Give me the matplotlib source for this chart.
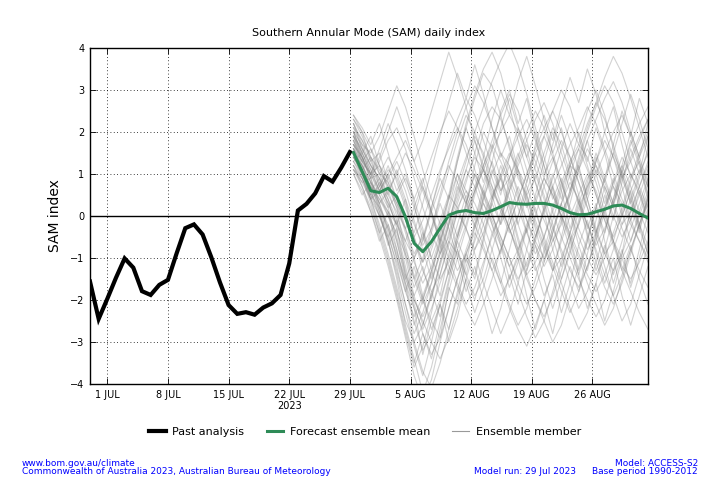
import numpy as np
import pandas as pd
import matplotlib
matplotlib.use("Agg")
import matplotlib.pyplot as plt
from matplotlib.lines import Line2D

# ---------------- data ----------------
past_start = "2023-06-29"
past_values = [-1.56, -2.45, -1.97, -1.47, -1.01, -1.23, -1.79, -1.88, -1.64, -1.52,
               -0.89, -0.29, -0.20, -0.44, -0.98, -1.58, -2.12, -2.33, -2.29, -2.35,
               -2.18, -2.08, -1.88, -1.13, 0.13, 0.29, 0.54, 0.95, 0.82, 1.15, 1.52]

forecast_start = "2023-07-29 10:00"
mean_values = [1.51, 1.06, 0.60, 0.56, 0.66, 0.46, -0.02, -0.65, -0.85, -0.61,
               -0.29, 0.02, 0.10, 0.13, 0.08, 0.06, 0.13, 0.22, 0.32, 0.29,
               0.28, 0.30, 0.30, 0.26, 0.18, 0.08, 0.03, 0.04, 0.10, 0.16,
               0.24, 0.26, 0.18, 0.06, -0.05]

members = [
    [2.1, 1.6, 1.2, 0.9, 0.4, -0.3, -1.2, -2.0, -2.4, -1.9, -1.2, -0.4, 0.3, 0.9, 1.4, 1.1, 0.6, 0.2, -0.3, -0.9, -1.4, -1.1, -0.5, 0.2, 0.8, 1.3, 1.7, 1.4, 0.8, 0.1, -0.6, -1.2, -1.5, -1.1, -0.6],
    [1.4, 1.0, 0.5, 0.7, 1.1, 0.9, 0.3, -0.5, -1.3, -1.8, -1.4, -0.7, 0.1, 0.8, 1.5, 2.2, 2.6, 2.3, 1.7, 1.0, 0.4, -0.2, -0.8, -1.3, -1.0, -0.4, 0.3, 0.9, 1.2, 0.8, 0.3, -0.2, 0.1, 0.7, 1.3],
    [1.8, 1.3, 0.6, 0.1, -0.6, -1.5, -2.6, -3.4, -4.2, -3.6, -2.7, -1.8, -1.0, -0.3, 0.5, 1.2, 1.8, 2.4, 2.9, 2.5, 1.8, 1.1, 0.5, -0.2, -0.9, -1.6, -2.2, -1.8, -1.1, -0.4, 0.4, 1.1, 1.7, 2.2, 2.6],
    [1.2, 0.8, 0.9, 1.3, 1.8, 2.1, 1.6, 0.9, 0.2, -0.4, -0.9, -0.5, 0.2, 0.6, 0.3, -0.2, -0.8, -1.5, -2.1, -2.6, -2.2, -1.5, -0.8, -0.1, 0.6, 1.2, 1.0, 0.4, -0.3, -0.9, -0.6, 0.1, 0.8, 1.4, 1.9],
    [2.3, 1.9, 1.4, 1.0, 0.8, 0.3, -0.4, -1.1, -1.6, -1.2, -0.5, 0.4, 1.3, 2.1, 2.8, 3.4, 3.1, 2.4, 1.6, 0.9, 0.5, 0.9, 1.5, 2.1, 1.7, 1.0, 0.3, -0.4, -1.1, -1.7, -2.1, -1.6, -0.9, -0.2, 0.5],
    [1.6, 1.1, 0.4, -0.2, -0.9, -1.7, -2.5, -3.0, -2.6, -1.9, -1.1, -0.6, -0.9, -1.4, -1.9, -1.5, -0.8, -0.1, 0.6, 1.1, 0.7, 0.1, -0.5, -1.1, -1.6, -2.2, -2.7, -2.3, -1.6, -0.8, 0.0, 0.6, 1.0, 0.6, 0.1],
    [1.9, 1.5, 1.1, 0.6, 0.2, 0.5, 0.9, 0.4, -0.3, -1.0, -0.4, 0.5, 1.4, 2.2, 2.9, 3.5, 3.9, 3.4, 2.6, 1.8, 1.1, 0.4, -0.1, -0.6, -0.2, 0.5, 1.3, 2.0, 2.6, 3.1, 2.7, 2.0, 1.3, 0.7, 0.2],
    [1.1, 0.7, 0.2, -0.4, -1.1, -1.9, -2.8, -3.6, -3.1, -2.3, -1.4, -0.6, 0.1, -0.3, -0.9, -1.6, -2.2, -2.8, -2.3, -1.6, -0.8, 0.0, 0.7, 1.3, 1.8, 1.4, 0.8, 0.2, -0.5, -1.2, -1.9, -2.5, -2.1, -1.4, -0.7],
    [2.0, 1.7, 1.5, 1.9, 2.5, 3.1, 2.6, 1.9, 1.1, 0.4, -0.2, -0.8, -1.3, -0.9, -0.3, 0.4, 1.0, 1.5, 1.2, 0.6, -0.1, -0.7, -1.2, -0.8, -0.1, 0.6, 1.4, 2.1, 2.7, 3.3, 3.8, 3.4, 2.8, 2.1, 1.4],
    [1.5, 1.2, 0.8, 0.5, 0.1, -0.5, -1.3, -2.1, -2.8, -3.3, -2.9, -2.2, -1.5, -0.8, -0.2, 0.3, -0.1, -0.6, -1.2, -1.8, -2.4, -2.9, -2.5, -1.8, -1.1, -0.4, 0.2, 0.7, 1.1, 0.7, 0.2, -0.3, -0.8, -1.3, -1.7],
    [1.7, 1.4, 0.9, 1.0, 1.4, 1.0, 0.4, -0.2, -0.7, -0.3, 0.4, 1.1, 1.8, 2.4, 2.0, 1.4, 0.7, 0.1, -0.4, 0.0, 0.6, 1.2, 1.9, 2.5, 3.0, 2.6, 1.9, 1.2, 0.5, -0.1, -0.6, -1.0, -0.6, 0.0, 0.6],
    [1.3, 0.9, 0.4, 0.0, -0.5, -1.1, -1.8, -2.4, -1.9, -1.3, -0.6, 0.1, 0.8, 1.4, 1.9, 1.5, 0.9, 0.3, -0.3, -0.8, -1.4, -2.0, -2.5, -3.0, -2.6, -1.9, -1.2, -0.5, 0.2, 0.9, 1.5, 1.0, 0.4, -0.2, -0.7],
    [2.4, 2.0, 1.6, 1.2, 0.7, 0.2, -0.3, -0.9, -0.5, 0.2, 1.0, 1.7, 2.3, 2.8, 2.4, 1.8, 1.2, 0.6, 0.9, 1.4, 2.0, 2.5, 2.1, 1.5, 0.8, 0.1, -0.5, -1.0, -1.4, -1.0, -0.4, 0.2, 0.9, 1.5, 2.0],
    [1.0, 0.6, 0.1, -0.5, -1.2, -2.0, -2.9, -3.8, -4.4, -3.9, -3.0, -2.2, -1.5, -0.9, -0.4, -0.8, -1.3, -1.9, -1.5, -0.9, -0.3, 0.3, 0.9, 0.5, 0.0, -0.5, -1.0, -1.6, -2.1, -2.6, -2.2, -1.5, -0.8, -0.2, 0.4],
    [1.6, 1.3, 1.0, 1.2, 0.9, 0.4, -0.1, -0.6, -1.1, -0.7, -0.1, 0.5, 0.2, -0.3, -0.8, -0.4, 0.3, 0.9, 1.4, 1.9, 2.3, 1.8, 1.2, 0.6, 0.0, -0.6, -0.2, 0.4, 1.0, 1.5, 2.0, 2.4, 1.9, 1.3, 0.7],
    [1.9, 1.4, 0.9, 0.3, -0.3, -1.0, -1.6, -2.2, -2.7, -2.2, -1.6, -1.0, -0.4, 0.2, 0.7, 1.2, 1.7, 1.3, 0.8, 0.2, -0.4, -0.9, -0.5, 0.1, 0.7, 1.2, 1.6, 1.1, 0.5, -0.1, -0.7, -1.3, -1.8, -2.3, -2.7],
    [1.4, 1.1, 0.7, 0.3, 0.6, 1.0, 1.5, 1.1, 0.6, 0.0, -0.6, -1.2, -1.7, -2.2, -2.6, -2.1, -1.5, -0.8, -0.2, 0.4, 1.0, 1.5, 1.9, 1.4, 0.8, 0.2, -0.3, -0.8, -0.4, 0.2, 0.7, 0.3, -0.2, -0.6, -1.1],
    [2.2, 1.8, 1.3, 0.8, 0.4, -0.1, -0.7, -1.5, -2.1, -1.6, -0.9, -0.2, 0.6, 1.3, 2.0, 2.6, 3.2, 3.7, 4.1, 3.6, 2.9, 2.1, 1.4, 0.7, 0.1, 0.5, 1.1, 1.6, 1.2, 0.6, 0.0, -0.5, -0.1, 0.5, 1.1],
    [1.2, 0.9, 0.5, 0.2, -0.2, -0.8, -1.6, -2.5, -3.2, -2.8, -2.1, -1.3, -0.5, 0.3, 1.0, 0.6, 0.0, -0.5, -1.0, -1.5, -1.1, -0.5, 0.1, 0.7, 1.2, 1.7, 2.1, 2.6, 2.2, 1.6, 1.0, 0.4, -0.1, -0.6, -1.0],
    [1.7, 1.3, 1.0, 0.6, 0.9, 1.3, 0.8, 0.2, -0.4, -1.0, -1.5, -1.1, -0.5, 0.1, 0.6, 1.1, 0.7, 0.2, -0.3, -0.9, -1.5, -2.0, -2.4, -1.9, -1.3, -0.6, 0.1, 0.7, 1.3, 1.8, 1.4, 0.9, 1.3, 1.8, 2.3],
    [2.0, 1.5, 1.0, 0.5, 0.0, -0.6, -1.4, -1.9, -1.4, -0.8, -0.2, 0.4, 1.0, 0.6, 0.1, -0.5, -1.1, -1.6, -2.2, -2.7, -3.1, -2.6, -2.0, -1.3, -0.6, 0.0, 0.5, 1.0, 0.6, 0.0, -0.5, 0.0, 0.6, 1.1, 0.7],
    [1.5, 1.2, 0.8, 0.4, 0.0, -0.4, -0.9, -1.5, -1.0, -0.3, 0.5, 1.3, 2.0, 2.6, 3.1, 2.7, 2.1, 1.5, 0.9, 0.4, -0.1, -0.6, -1.0, -0.6, 0.0, 0.6, 1.2, 1.8, 2.3, 2.8, 3.2, 2.7, 2.0, 1.4, 0.8],
    [1.8, 1.4, 0.8, 0.3, -0.4, -1.2, -2.1, -3.0, -3.7, -4.1, -3.5, -2.7, -1.9, -1.2, -0.6, 0.0, 0.5, 0.9, 0.4, -0.2, -0.8, -1.3, -0.9, -0.3, 0.3, 0.8, 0.4, -0.2, -0.8, -1.4, -1.9, -1.4, -0.8, -0.2, 0.3],
    [1.3, 1.0, 0.7, 0.4, 0.1, -0.2, -0.6, -1.0, -0.6, 0.1, 0.7, 1.2, 0.8, 0.3, -0.2, -0.7, -1.3, -0.8, -0.2, 0.4, 1.0, 1.6, 2.1, 2.5, 2.0, 1.4, 0.8, 0.2, -0.4, -0.9, -1.3, -0.9, -0.3, 0.3, 0.9],
    [2.2, 1.7, 1.2, 0.7, 0.3, -0.2, -0.8, -1.4, -2.0, -2.5, -2.0, -1.3, -0.6, 0.0, 0.6, 1.1, 1.6, 2.0, 2.4, 2.0, 1.4, 0.8, 0.2, -0.3, -0.8, -1.3, -1.7, -1.2, -0.6, 0.1, 0.8, 1.4, 1.0, 0.5, 0.0],
    [1.1, 0.8, 0.4, 0.6, 1.0, 1.4, 1.8, 1.3, 0.7, 0.1, -0.5, -1.0, -1.6, -2.1, -1.7, -1.1, -0.5, 0.1, 0.7, 1.3, 1.8, 2.3, 2.7, 2.2, 1.5, 0.9, 0.3, -0.2, -0.7, -0.3, 0.3, 0.9, 1.4, 1.9, 2.3],
    [1.6, 1.2, 0.7, 0.2, -0.3, -0.9, -1.5, -2.0, -2.5, -3.0, -3.4, -2.9, -2.2, -1.5, -0.8, -0.2, 0.4, 1.0, 1.5, 1.1, 0.5, -0.1, -0.7, -1.2, -1.8, -2.3, -1.8, -1.2, -0.5, 0.2, 0.8, 1.2, 0.7, 0.1, -0.4],
    [1.9, 1.6, 1.2, 0.9, 0.5, 0.1, -0.3, 0.2, 0.8, 1.4, 2.0, 2.5, 2.1, 1.5, 0.9, 0.3, -0.2, -0.7, -1.2, -0.8, -0.2, 0.4, 0.9, 0.5, 0.0, -0.4, -0.9, -1.4, -1.8, -1.4, -0.8, -0.2, 0.4, 1.0, 1.5],
    [1.4, 1.0, 0.5, 0.0, -0.6, -1.3, -2.1, -2.8, -2.3, -1.6, -0.8, -0.1, 0.5, 1.1, 0.7, 0.1, -0.4, 0.0, 0.6, 1.2, 1.7, 1.3, 0.7, 0.1, -0.5, -1.0, -1.5, -2.0, -2.4, -2.0, -1.3, -0.6, 0.1, 0.7, 1.2],
    [2.1, 1.8, 1.4, 1.1, 0.7, 0.3, -0.1, -0.5, -0.1, 0.5, 1.1, 1.6, 2.1, 1.7, 1.1, 0.5, 0.0, -0.5, -1.0, -1.6, -2.1, -1.7, -1.1, -0.4, 0.3, 1.0, 1.6, 2.2, 2.7, 2.3, 1.7, 1.0, 0.3, -0.3, -0.9],
    [2.3, 2.0, 1.3, 1.5, 0.8, 0.2, -0.9, -1.7, -1.2, -2.0, -1.1, -0.2, 0.7, 0.3, 1.2, 2.0, 1.6, 2.5, 3.0, 2.2, 2.8, 1.9, 1.0, 1.4, 0.6, -0.3, 0.4, -0.5, -1.3, -0.7, -1.6, -0.9, 0.2, -0.4, 0.5],
    [1.0, 0.5, 0.8, 0.1, -0.7, -0.3, -1.4, -2.2, -3.3, -2.5, -2.9, -1.7, -2.1, -1.0, -1.5, -0.6, 0.3, -0.2, 0.9, 1.5, 0.8, 1.7, 2.4, 1.8, 2.6, 3.3, 2.7, 3.5, 2.9, 2.0, 2.6, 1.7, 0.9, 1.3, 0.4],
    [1.7, 1.1, 1.4, 0.7, 1.2, 0.6, 1.0, 0.3, -0.6, 0.2, 0.9, 0.4, 1.3, 2.1, 1.5, 0.8, 1.6, 0.9, 0.0, -0.8, -0.3, -1.2, -1.9, -1.4, -2.3, -1.6, -0.7, -1.3, -0.4, 0.5, -0.1, 0.8, 1.6, 1.0, 1.9],
    [2.0, 1.4, 0.9, 0.2, -0.5, -0.1, -1.0, -1.9, -2.6, -1.8, -2.4, -1.5, -0.6, -1.1, -0.2, 0.6, 0.1, -0.7, -1.5, -1.0, -1.9, -2.7, -2.0, -2.8, -1.9, -1.2, -1.8, -0.9, -0.1, 0.7, 0.2, 1.1, 0.5, -0.3, 0.4],
    [1.3, 1.5, 1.0, 1.6, 2.2, 1.7, 1.1, 0.4, 0.9, 0.1, -0.6, 0.0, -0.8, -0.2, 0.6, 1.4, 2.3, 3.0, 2.4, 3.2, 3.8, 3.1, 2.3, 1.5, 2.1, 1.2, 0.5, -0.3, 0.3, -0.6, -1.4, -0.8, -1.7, -1.0, -0.2],
    [1.8, 1.2, 0.6, 0.9, 0.2, -0.6, -1.5, -1.0, -1.9, -2.7, -2.1, -3.0, -2.4, -1.5, -2.0, -1.2, -0.4, -0.9, 0.0, 0.7, 0.2, 1.0, 0.4, -0.5, -1.2, -0.6, -1.4, -2.2, -1.6, -2.5, -1.8, -1.0, -1.6, -0.8, 0.1],
    [2.4, 2.1, 1.7, 2.2, 1.5, 0.8, 0.2, -0.4, 0.3, 1.1, 1.9, 2.7, 3.4, 2.8, 3.6, 2.9, 2.1, 1.4, 1.9, 1.1, 0.3, -0.5, 0.1, -0.8, -1.5, -0.9, -0.1, 0.8, 1.5, 0.9, 1.7, 2.5, 1.9, 2.8, 2.2],
    [1.5, 0.9, 0.3, -0.4, 0.1, -0.8, -1.7, -2.6, -2.0, -1.3, -1.9, -0.9, -0.2, 0.5, -0.1, 0.7, 1.3, 0.6, 1.2, 0.5, -0.4, 0.2, -0.6, -1.3, -0.5, 0.3, 1.1, 0.5, 1.3, 2.0, 1.4, 0.7, -0.1, 0.6, -0.2],
    [1.1, 0.9, 0.4, 0.8, 0.3, -0.2, 0.4, -0.5, -1.1, -0.4, 0.3, -0.3, -1.0, -1.8, -1.2, -2.0, -2.8, -2.2, -1.4, -2.1, -1.3, -0.5, 0.2, 1.0, 0.4, 1.2, 2.0, 1.3, 2.1, 1.5, 0.7, 0.0, 0.6, -0.2, -0.9],
    [2.2, 1.6, 1.1, 0.6, 1.0, 0.4, -0.3, -1.0, -0.4, -1.3, -0.7, 0.1, -0.5, 0.3, 1.0, 0.5, 1.3, 2.1, 2.8, 2.1, 1.4, 2.0, 1.2, 0.4, 0.9, 0.1, -0.7, -0.1, -0.9, -1.6, -1.0, -1.9, -2.6, -1.9, -1.2],
    [1.6, 1.0, 0.4, -0.3, -1.0, -1.8, -2.7, -3.5, -2.8, -3.4, -2.5, -1.6, -0.8, -1.4, -0.5, 0.4, 1.1, 0.5, 1.4, 2.1, 1.6, 0.8, 0.1, 0.7, -0.1, -0.8, -0.2, 0.6, 1.4, 0.8, 1.5, 2.2, 2.9, 2.3, 1.6],
    [1.9, 1.3, 1.6, 1.0, 0.5, 1.1, 0.6, -0.1, -0.8, -1.5, -0.9, -0.2, 0.4, 1.1, 1.8, 1.2, 0.5, -0.2, 0.3, -0.5, -1.2, -0.6, 0.2, 0.9, 1.6, 2.2, 1.7, 2.5, 3.0, 2.4, 1.6, 0.9, 0.3, 0.9, 1.6],
    [1.2, 0.7, 0.1, -0.6, -0.2, -1.0, -1.8, -1.2, -2.0, -1.4, -0.6, 0.2, 1.0, 0.4, -0.3, 0.5, -0.2, -1.0, -1.7, -1.1, -0.3, 0.5, 1.3, 2.0, 1.3, 0.6, 1.2, 0.4, -0.4, 0.2, -0.6, -1.3, -0.7, -1.5, -2.1],
    [2.0, 1.5, 1.9, 1.2, 0.6, 0.0, -0.6, 0.0, 0.7, 0.1, -0.7, -1.4, -0.8, -1.6, -2.3, -1.7, -1.0, -1.6, -0.8, 0.0, 0.8, 1.5, 0.9, 1.7, 2.4, 1.8, 1.1, 1.8, 1.0, 0.3, 0.9, 0.1, -0.6, 0.1, 0.8],
    [1.4, 1.1, 0.6, 0.0, -0.6, -1.4, -2.3, -3.1, -3.8, -3.0, -2.1, -2.7, -1.8, -0.9, -1.4, -0.5, 0.4, 1.2, 0.6, -0.2, 0.5, -0.3, -1.1, -0.4, 0.3, -0.5, -1.3, -0.6, 0.2, 0.9, 0.3, 1.0, 1.8, 1.2, 0.5],
    [1.7, 1.4, 1.0, 1.4, 2.0, 2.6, 2.0, 1.3, 1.8, 2.5, 3.2, 3.9, 3.3, 2.6, 1.8, 1.1, 0.4, 1.0, 0.2, -0.6, -1.3, -0.7, -1.5, -2.2, -1.5, -0.8, -1.4, -0.6, 0.2, -0.4, 0.4, 1.2, 2.0, 1.4, 2.2],
]

tick_dates = ["2023-07-01", "2023-07-08", "2023-07-15", "2023-07-22", "2023-07-29",
              "2023-08-05", "2023-08-12", "2023-08-19", "2023-08-26"]
tick_labels = ["1 JUL", "8 JUL", "15 JUL", "22 JUL\n2023", "29 JUL",
               "5 AUG", "12 AUG", "19 AUG", "26 AUG"]
y_ticks = [-4, -3, -2, -1, 0, 1, 2, 3, 4]

title = "Southern Annular Mode (SAM) daily index"
ylabel = "SAM index"
legend_labels = ["Past analysis", "Forecast ensemble mean", "Ensemble member"]
footer_left = ["www.bom.gov.au/climate",
               "Commonwealth of Australia 2023, Australian Bureau of Meteorology"]
footer_right_top = "Model: ACCESS-S2"
footer_run = "Model run: 29 Jul 2023"
footer_base = "Base period 1990-2012"

# ---------------- plot ----------------
past_dates = pd.date_range(past_start, periods=len(past_values), freq="D")
fc_dates = pd.date_range(forecast_start, periods=len(mean_values), freq="D")

GREEN = "#2e8b57"
BLUE = "#0000ff"

fig = plt.figure(figsize=(7.2, 4.8), dpi=100)
ax = fig.add_axes([0.125, 0.2, 0.775, 0.7])

for m in members:
    ax.plot(fc_dates, m, color="#808080", alpha=0.35, lw=0.8, zorder=2)

ax.axhline(0, color="black", lw=1.0, zorder=3)
ax.plot(past_dates, past_values, color="black", lw=3.0, zorder=5,
        solid_joinstyle="miter")
ax.plot(fc_dates, mean_values, color=GREEN, lw=2.2, zorder=6)

ax.set_xlim(past_dates[0], fc_dates[-1])
ax.set_ylim(-4, 4)
ax.set_yticks(y_ticks)
ax.set_yticklabels(["\u2212%d" % abs(v) if v < 0 else "%d" % v for v in y_ticks])
ax.set_xticks(pd.to_datetime(tick_dates))
ax.set_xticklabels(tick_labels)

ax.grid(True, color="black", linestyle=(0, (1, 3)), linewidth=0.6)
ax.tick_params(direction="in", top=True, right=True, length=4, width=0.6,
               labelsize=7, pad=4)
for s in ax.spines.values():
    s.set_linewidth(1.0)

ax.set_ylabel(ylabel, fontsize=10, labelpad=6)
ax.set_title(title, fontsize=8, pad=9)

handles = [Line2D([], [], color="black", lw=3.0),
           Line2D([], [], color=GREEN, lw=2.2),
           Line2D([], [], color="#999999", lw=0.8)]
fig.legend(handles, legend_labels, loc="center", bbox_to_anchor=(0.507, 0.1),
           ncol=3, frameon=False, fontsize=8, handlelength=1.5,
           columnspacing=2.0, handletextpad=0.6)

fs = 6.5
fig.text(22 / 720, 1 - 463 / 480, footer_left[0], color=BLUE, fontsize=fs,
         ha="left", va="center")
fig.text(22 / 720, 1 - 472 / 480, footer_left[1], color=BLUE, fontsize=fs,
         ha="left", va="center")
fig.text(698 / 720, 1 - 463 / 480, footer_right_top, color=BLUE, fontsize=fs,
         ha="right", va="center")
fig.text(576 / 720, 1 - 472 / 480, footer_run, color=BLUE, fontsize=fs,
         ha="right", va="center")
fig.text(698 / 720, 1 - 472 / 480, footer_base, color=BLUE, fontsize=fs,
         ha="right", va="center")

fig.savefig("out.png", dpi=100)
